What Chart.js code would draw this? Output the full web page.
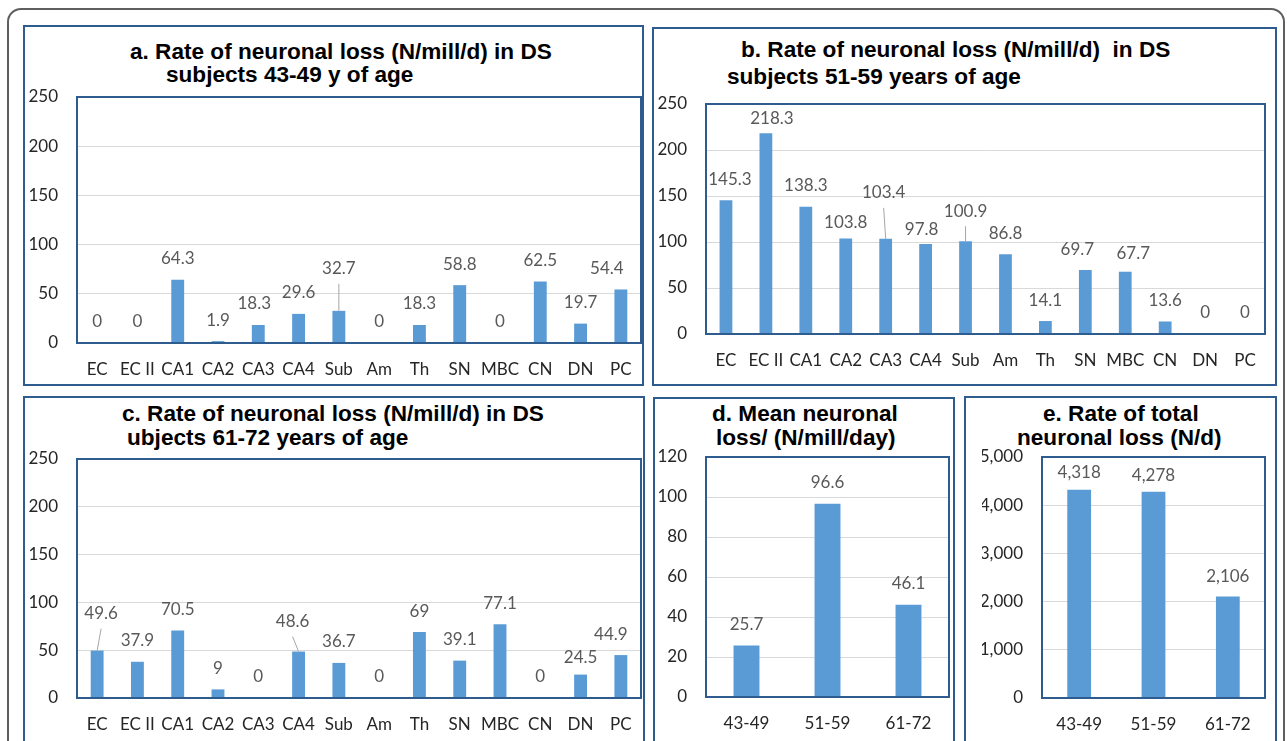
<!DOCTYPE html>
<html>
<head>
<meta charset="utf-8">
<script src="https://cdn.jsdelivr.net/npm/chart.js@4.4.1/dist/chart.umd.min.js"></script>
<style>
  html, body { margin: 0; padding: 0; background: #fff; width: 1287px; height: 741px; overflow: hidden; }
  .frame { position: absolute; left: 7px; top: 8px; width: 1278px; height: 800px; box-sizing: border-box;
           border: 2px solid #5f5f5f; border-radius: 14px; }
  .panel { position: absolute; box-sizing: border-box; border: 2px solid #2e5c8e; }
  .title { position: absolute; font-family: "Liberation Sans", Arial, sans-serif; font-weight: bold;
           font-size: 22.6px; line-height: 24px; color: #000; white-space: pre; }
  canvas { position: absolute; }
</style>
</head>
<body>
<div class="frame"></div>
<script>
// brain regions and age groups
const regions = ['EC', 'EC II', 'CA1', 'CA2', 'CA3', 'CA4', 'Sub', 'Am', 'Th', 'SN', 'MBC', 'CN', 'DN', 'PC'];
const ageGroups = ['43-49', '51-59', '61-72'];

// N/mill/d per region
const loss43to49 = [0, 0, 64.3, 1.9, 18.3, 29.6, 32.7, 0, 18.3, 58.8, 0, 62.5, 19.7, 54.4];
const loss51to59 = [145.3, 218.3, 138.3, 103.8, 103.4, 97.8, 100.9, 86.8, 14.1, 69.7, 67.7, 13.6, 0, 0];
const loss61to72 = [49.6, 37.9, 70.5, 9, 0, 48.6, 36.7, 0, 69, 39.1, 77.1, 0, 24.5, 44.9];

// means per age group
const meanLoss = [25.7, 96.6, 46.1];      // N/mill/day
const totalLoss = [4318, 4278, 2106];     // N/d

// y axis ticks
const regionTicks = [0, 50, 100, 150, 200, 250];
const meanTicks = [0, 20, 40, 60, 80, 100, 120];
const totalTicks = [0, 1000, 2000, 3000, 4000, 5000];

const BAR = '#5b9bd5';
const EDGE = '#2e5c8e';
const FONT = 'Lato, "Open Sans", sans-serif';

function addBox(l, t, r, b) {
    const d = document.createElement('div');
    d.className = 'panel';
    d.style.left = l + 'px'; d.style.top = t + 'px';
    d.style.width = (r - l) + 'px'; d.style.height = (b - t) + 'px';
    document.body.appendChild(d);
}

function addTitle(text, left, centerY) {
    const d = document.createElement('div');
    d.className = 'title';
    d.textContent = text;
    d.style.left = left + 'px';
    d.style.top = (centerY - 12) + 'px';
    document.body.appendChild(d);
}

// border round the plot area, like Excel
const plotBorder = {
    id: 'plotBorder',
    afterDatasetsDraw(chart) {
        const a = chart.chartArea, ctx = chart.ctx;
        ctx.save();
        ctx.strokeStyle = EDGE;
        ctx.lineWidth = 2;
        ctx.strokeRect(a.left, a.top, a.right - a.left, a.bottom - a.top);
        ctx.restore();
    }
};

// value labels above bars, some moved with a leader line
const valueLabels = {
    id: 'valueLabels',
    afterDatasetsDraw(chart, args, opts) {
        const ctx = chart.ctx;
        const meta = chart.getDatasetMeta(0);
        const values = chart.data.datasets[0].data;
        ctx.save();
        ctx.font = '17px ' + FONT;
        ctx.fillStyle = '#595959';
        ctx.textAlign = 'center';
        ctx.textBaseline = 'middle';
        meta.data.forEach((bar, i) => {
            const n = (opts.nudges && opts.nudges[i]) || {};
            const gap = n.gap !== undefined ? n.gap : 21;
            const x = bar.x + (n.dx || 0);
            const y = bar.y - gap;
            ctx.fillText(opts.fmt(values[i]), x, y);
            if (n.leader) {
                ctx.strokeStyle = '#a6a6a6';
                ctx.lineWidth = 1;
                ctx.beginPath();
                ctx.moveTo(x, y + 15);
                ctx.lineTo(bar.x, bar.y);
                ctx.stroke();
            }
        });
        ctx.restore();
    }
};

function makeChart(plot, labels, values, ticks, fmt, tickFmt, nudges) {
    const [pl, pt, pr, pb] = plot;
    const yw = 60, padTop = 30, padRight = 10, xh = 45;
    const c = document.createElement('canvas');
    c.width = pr - pl + yw + padRight;
    c.height = pb - pt + padTop + xh;
    c.style.left = (pl - yw) + 'px';
    c.style.top = (pt - padTop) + 'px';
    document.body.appendChild(c);

    const step = ticks[1] - ticks[0];
    const tickFont = { family: FONT, size: 17 };

    new Chart(c.getContext('2d'), {
        type: 'bar',
        data: {
            labels: labels,
            datasets: [{
                data: values,
                backgroundColor: BAR,
                categoryPercentage: 1,
                barPercentage: 0.32
            }]
        },
        options: {
            responsive: false,
            animation: false,
            layout: { padding: { top: padTop, right: padRight, left: 0, bottom: 0 } },
            plugins: {
                legend: { display: false },
                tooltip: { enabled: false },
                valueLabels: { fmt: fmt, nudges: nudges }
            },
            scales: {
                x: {
                    grid: { display: false, drawTicks: false },
                    border: { display: false },
                    ticks: { color: '#262626', font: tickFont, padding: 16, maxRotation: 0, autoSkip: false },
                    afterFit(s) { s.height = xh; }
                },
                y: {
                    min: ticks[0],
                    max: ticks[ticks.length - 1],
                    grid: { color: '#d9d9d9', lineWidth: 1, drawTicks: false },
                    border: { display: false },
                    ticks: { stepSize: step, color: '#262626', font: tickFont, padding: 19, callback: tickFmt },
                    afterFit(s) { s.width = yw; }
                }
            }
        },
        plugins: [plotBorder, valueLabels]
    });
}

const plain = v => String(v);
const comma = v => Number(v).toLocaleString('en-US');

// panel boxes
addBox(23, 25, 644, 386);
addBox(652, 27, 1277, 386);
addBox(23, 396, 645, 760);
addBox(653, 397, 955, 760);
addBox(964, 396, 1277, 760);

// titles
addTitle('a. Rate of neuronal loss (N/mill/d) in DS', 130, 52);
addTitle('subjects 43-49 y of age', 166, 75);
addTitle('b. Rate of neuronal loss (N/mill/d)  in DS', 741, 50);
addTitle('subjects 51-59 years of age', 727, 77);
addTitle('c. Rate of neuronal loss (N/mill/d) in DS', 122, 414);
addTitle('ubjects 61-72 years of age', 127, 438);
addTitle('d. Mean neuronal', 712, 414);
addTitle('loss/ (N/mill/day)', 716, 438);
addTitle('e. Rate of total', 1043, 414);
addTitle('neuronal loss (N/d)', 1017, 438);

makeChart([77, 97, 641, 343], regions, loss43to49, regionTicks, plain, plain, {
    4: { dx: -4 },
    6: { gap: 42, leader: true },
    13: { dx: -14 }
});
makeChart([706, 104, 1265, 334], regions, loss51to59, regionTicks, plain, plain, {
    0: { dx: 4 },
    1: { dx: 6, gap: 15 },
    3: { gap: 16 },
    4: { dx: -2, gap: 46, leader: true },
    5: { dx: -4, gap: 15 },
    6: { gap: 30, leader: true },
    9: { dx: -8, gap: 20 },
    10: { dx: 8, gap: 18 }
});
makeChart([77, 459, 641, 698], regions, loss61to72, regionTicks, plain, plain, {
    0: { dx: 4, gap: 37, leader: true },
    5: { dx: -6, gap: 30, leader: true },
    12: { gap: 17 },
    13: { dx: -10 }
});
makeChart([706, 457, 949, 697], ageGroups, meanLoss, meanTicks, plain, plain, {});
makeChart([1042, 457, 1265, 698], ageGroups, totalLoss, totalTicks, comma, comma, {
    0: { gap: 17 },
    1: { gap: 16 },
    2: { gap: 20 }
});
</script>
</body>
</html>
